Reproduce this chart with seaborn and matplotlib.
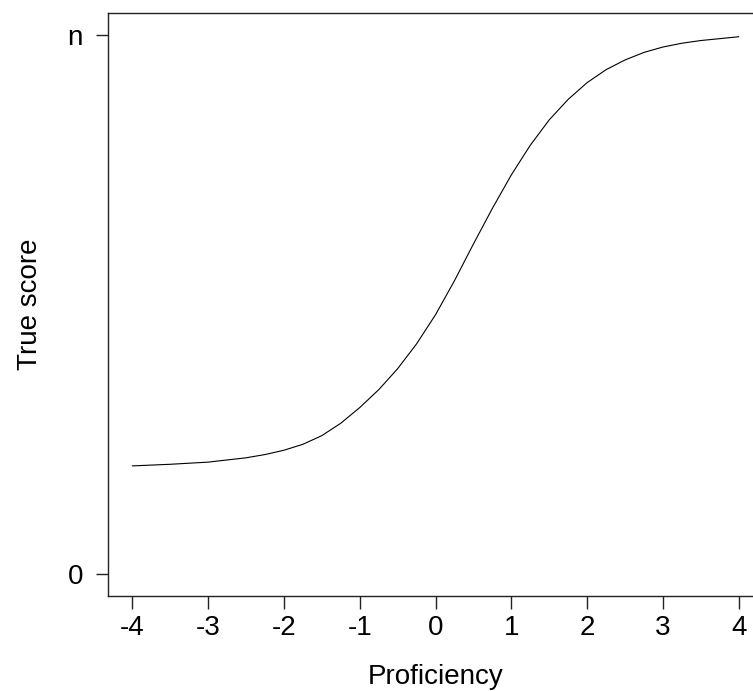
import matplotlib
matplotlib.use("Agg")
import matplotlib.pyplot as plt
import seaborn as sns
import pandas as pd

# Values
proficiency = [-4.0, -3.5, -3.0, -2.5, -2.25, -2.0, -1.75, -1.5, -1.25, -1.0, -0.75, -0.5,
               -0.25, 0.0, 0.25, 0.5, 0.75, 1.0, 1.25, 1.5, 1.75, 2.0, 2.25, 2.5, 2.75,
               3.0, 3.25, 3.5, 4.0]
true_score = [0.201, 0.204, 0.208, 0.216, 0.222, 0.230, 0.241, 0.257, 0.280, 0.309, 0.342, 0.381,
              0.427, 0.481, 0.544, 0.612, 0.678, 0.740, 0.795, 0.842, 0.880, 0.911, 0.935, 0.953, 0.967,
              0.977, 0.984, 0.989, 0.996]
x_ticks = [-4, -3, -2, -1, 0, 1, 2, 3, 4]
y_ticks = [0, 1]
y_tick_labels = ["0", "n"]

sns.set_style("white")
plt.rcParams['font.family'] = ['Liberation Sans', 'DejaVu Sans']

df = pd.DataFrame({"Proficiency": proficiency, "True score": true_score})

fig = plt.figure(figsize=(7.53, 6.91), dpi=100)
ax = fig.add_axes([108 / 753, 1 - 596 / 691, (763 - 108) / 753, (596 - 13) / 691])

sns.lineplot(data=df, x="Proficiency", y="True score", ax=ax, color="black", linewidth=0.8)

ax.set_xlim(-4.32, 4.32)
ax.set_ylim(-0.04, 1.04)
ax.set_xticks(x_ticks)
ax.set_xticklabels([str(t) for t in x_ticks])
ax.set_yticks(y_ticks)
ax.set_yticklabels(y_tick_labels)

ax.tick_params(axis="both", direction="out", length=9, width=1, color="#222222",
               labelsize=20, labelcolor="black", bottom=True, left=True)
ax.tick_params(axis="x", pad=5)
ax.tick_params(axis="y", pad=9)
for s in ax.spines.values():
    s.set_visible(True)
    s.set_color("#222222")
    s.set_linewidth(1)

ax.set_xlabel("Proficiency", fontsize=20, labelpad=16, color="black")
ax.set_ylabel("True score", fontsize=20, labelpad=18, color="black")

fig.savefig("out.png", dpi=100)
